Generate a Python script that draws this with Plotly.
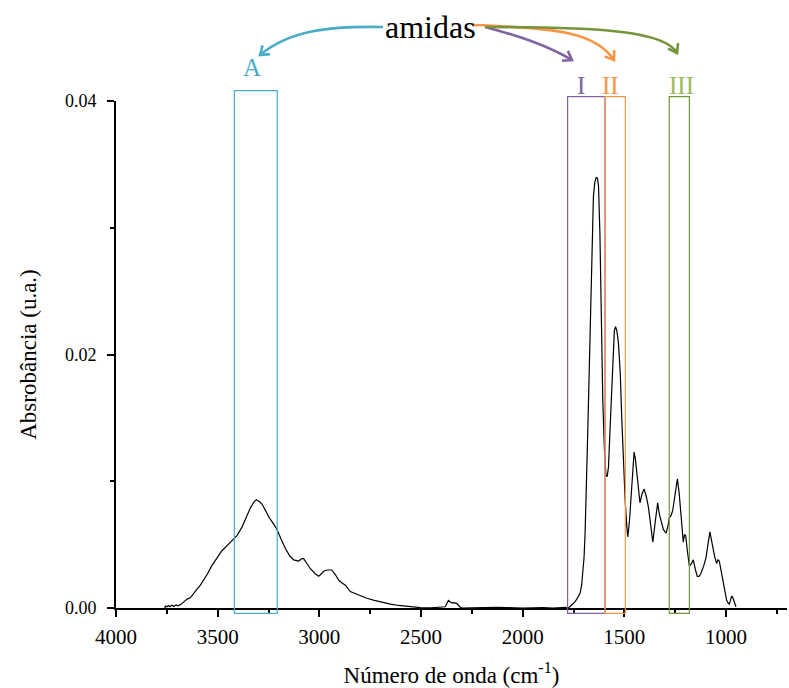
import math
import plotly.graph_objects as go

# ---------------- data ----------------
wavenumber = [3760, 3757, 3750, 3742, 3735, 3725, 3715, 3705, 3695, 3680, 3665, 3650, 3635, 3618,
              3600, 3585, 3569, 3550, 3530, 3503, 3480, 3455, 3429, 3405, 3380, 3360, 3339, 3320,
              3310, 3295, 3282, 3265, 3249, 3228, 3208, 3190, 3167, 3145, 3126, 3102, 3085, 3077,
              3060, 3044, 3020, 3003, 2990, 2979, 2960, 2938, 2920, 2905, 2890, 2872, 2848, 2820,
              2800, 2766, 2730, 2684, 2650, 2610, 2560, 2504, 2450, 2400, 2381, 2365, 2358, 2350,
              2340, 2323, 2310, 2299, 2250, 2200, 2150, 2120, 2080, 2000, 1900, 1850, 1790, 1775,
              1762, 1750, 1742, 1730, 1717, 1710, 1704, 1698, 1693, 1686, 1680, 1670, 1660, 1652,
              1645, 1638, 1632, 1627, 1620, 1616, 1611, 1606, 1598, 1590, 1584, 1578, 1570, 1562,
              1555, 1549, 1543, 1536, 1529, 1520, 1513, 1505, 1496, 1488, 1483, 1475, 1467, 1460,
              1452, 1446, 1439, 1430, 1423, 1413, 1403, 1392, 1382, 1370, 1360, 1348, 1336, 1328,
              1320, 1308, 1295, 1285, 1279, 1270, 1262, 1250, 1239, 1230, 1221, 1215, 1210, 1204,
              1198, 1190, 1180, 1170, 1161, 1150, 1141, 1132, 1124, 1110, 1098, 1088, 1079, 1072,
              1065, 1055, 1046, 1040, 1033, 1023, 1013, 1005, 997, 990, 984, 978, 972, 966, 961,
              955, 951]
absorbance = [0.0000, 0.00015, 0.0001, 0.0002, 0.0001, 0.00022, 0.00012, 0.00025, 0.00018, 0.0003,
              0.0005, 0.0007, 0.0008, 0.0011, 0.0015, 0.0018, 0.0022, 0.0027, 0.0033, 0.0040,
              0.0045, 0.0049, 0.0053, 0.0057, 0.0064, 0.0071, 0.0079, 0.0084, 0.00855, 0.0084,
              0.0082, 0.0077, 0.0072, 0.0067, 0.0062, 0.0055, 0.0047, 0.0041, 0.0038, 0.0037,
              0.0039, 0.0039, 0.0035, 0.0031, 0.0027, 0.0025, 0.0027, 0.0029, 0.0030, 0.0030,
              0.0026, 0.0022, 0.0020, 0.0018, 0.0013, 0.0011, 0.0010, 0.00077, 0.0006, 0.00042,
              0.0003, 0.0002, 0.0001, 0.00003, 0.00002, 0.00005, 0.0001, 0.0006, 0.0005, 0.0004,
              0.00042, 0.00035, 0.0001, 0.0, 0.00002, 0.00005, 0.0001, 0.00006, 0.00004, 0.0,
              0.00003, 0.0, 0.00005, 0.0, 0.0002, 0.0004, 0.0005, 0.0008, 0.0012, 0.0018,
              0.0027, 0.0040, 0.0059, 0.0095, 0.0138, 0.0205, 0.0275, 0.0325, 0.0336, 0.0340,
              0.0339, 0.0333, 0.0295, 0.0249, 0.0205, 0.0164, 0.0125, 0.0104, 0.0104, 0.0111,
              0.0142, 0.0177, 0.0203, 0.0219, 0.0222, 0.0218, 0.0209, 0.0185, 0.0151, 0.0118,
              0.0085, 0.0065, 0.0056, 0.0068, 0.0085, 0.0103, 0.0123, 0.0118, 0.0106, 0.0092,
              0.0083, 0.0090, 0.0094, 0.0088, 0.0080, 0.0065, 0.0052, 0.0068, 0.0083, 0.0074,
              0.0069, 0.0062, 0.0059, 0.0065, 0.0071, 0.0073, 0.0077, 0.0090, 0.0102, 0.0090,
              0.0075, 0.0060, 0.0052, 0.0058, 0.0057, 0.0045, 0.0033, 0.0035, 0.0038, 0.0030,
              0.0025, 0.0025, 0.0027, 0.0033, 0.0040, 0.0051, 0.0060, 0.0054, 0.0048, 0.0040,
              0.0035, 0.0038, 0.0037, 0.0028, 0.0019, 0.0012, 0.00063, 0.0004, 0.0003, 0.0006,
              0.00095, 0.0008, 0.0005, 0.0003, 0.0001]

x_tick_vals = [4000, 3500, 3000, 2500, 2000, 1500, 1000]
x_tick_text = ["4000", "3500", "3000", "2500", "2000", "1500", "1000"]
y_tick_vals = [0.00, 0.02, 0.04]
y_tick_text = ["0.00", "0.02", "0.04"]

# band regions (cm-1)
band_names = ["A", "I", "II", "III"]
band_lo = [3207, 1595, 1495, 1180]
band_hi = [3418, 1779, 1595, 1279]
band_label_colors = ["#4BACC6", "#8064A2", "#F79646", "#9BBB59"]
band_box_colors = ["#4BACC6", "#8064A2", "#F79646", "#77933C"]
arrow_colors = ["#4BACC6", "#8064A2", "#F79646", "#77933C"]

# ---------------- layout geometry ----------------
W, H = 789, 688
ML, MR, MT, MB = 116, 2, 101, 80
PW, PH = W - ML - MR, H - MT - MB
FONT = "Liberation Serif"


def px(xp, yp):
    """pixel position -> paper coordinates"""
    return (xp - ML) / PW, (H - MB - yp) / PH


fig = go.Figure()
fig.add_trace(go.Scatter(x=wavenumber, y=absorbance, mode="lines",
                         line=dict(color="black", width=1.2), showlegend=False,
                         hoverinfo="x+y"))

shapes = []
annotations = []

# boxes: x in data units, y in paper units
box_top = [1.0203, 1.0085, 1.0085, 1.0085]
box_bottom = -0.0105
for lo, hi, top, col in zip(band_lo, band_hi, box_top, band_box_colors):
    shapes.append(dict(type="rect", xref="x", yref="paper", x0=hi, x1=lo,
                       y0=box_bottom, y1=top, line=dict(color=col, width=1.2),
                       fillcolor="rgba(0,0,0,0)", layer="above"))

# band labels
label_pix = [(252, 68), (581, 85), (610, 85), (681, 85)]
for name, (lx, ly), col in zip(band_names, label_pix, band_label_colors):
    xp, yp = px(lx, ly)
    annotations.append(dict(text=name, x=xp, y=yp, xref="paper", yref="paper",
                            showarrow=False, xanchor="center", yanchor="middle",
                            font=dict(family=FONT, size=25, color=col)))

# "amidas" label
ax_, ay_ = px(430, 27)
annotations.append(dict(text="amidas", x=ax_, y=ay_, xref="paper", yref="paper",
                        showarrow=False, xanchor="center", yanchor="middle",
                        font=dict(family=FONT, size=32, color="black")))

# curved arrows (cubic Bezier in pixel space)
curves = [
    [(383, 27), (330, 26), (290, 30), (260, 55)],
    [(485, 27), (515, 35), (545, 44), (572, 60)],
    [(473, 25), (560, 28), (596, 33), (614, 60)],
    [(485, 27), (600, 27), (665, 31), (677, 53)],
]
for pts, col in zip(curves, arrow_colors):
    p = [px(*q) for q in pts]
    path = "M {:.5f},{:.5f} C {:.5f},{:.5f} {:.5f},{:.5f} {:.5f},{:.5f}".format(
        *p[0], *p[1], *p[2], *p[3])
    shapes.append(dict(type="path", xref="paper", yref="paper", path=path,
                       line=dict(color=col, width=2.6), layer="above"))
    # arrow head
    (x2, y2), (x3, y3) = pts[2], pts[3]
    ang = math.atan2(y3 - y2, x3 - x2)
    L = 10
    arms = []
    for da in (math.radians(35), -math.radians(35)):
        a = ang + math.pi + da
        arms.append((x3 + L * math.cos(a), y3 + L * math.sin(a)))
    h0 = px(*arms[0]); ht = px(x3, y3); h1 = px(*arms[1])
    hpath = "M {:.5f},{:.5f} L {:.5f},{:.5f} L {:.5f},{:.5f}".format(*h0, *ht, *h1)
    shapes.append(dict(type="path", xref="paper", yref="paper", path=hpath,
                       line=dict(color=col, width=2.6), layer="above"))

fig.update_layout(
    width=W, height=H,
    margin=dict(l=ML, r=MR, t=MT, b=MB, pad=0, autoexpand=False),
    paper_bgcolor="white", plot_bgcolor="white",
    font=dict(family=FONT, color="black", size=18),
    showlegend=False,
    shapes=shapes, annotations=annotations,
    xaxis=dict(range=[4000, 700], tickvals=x_tick_vals, ticktext=x_tick_text,
               ticks="outside", ticklen=7, tickwidth=2, tickcolor="black",
               showline=True, linecolor="black", linewidth=2, automargin=False,
               showgrid=False, zeroline=False, ticklabelstandoff=2,
               minor=dict(dtick=250, tick0=4000, ticks="outside", ticklen=4,
                          tickwidth=2, tickcolor="black", showgrid=False),
               tickfont=dict(family=FONT, size=21),
               title=dict(text="Número de onda (cm<sup>-1</sup>)",
                          font=dict(family=FONT, size=23), standoff=24)),
    yaxis=dict(range=[0, 0.04], tickvals=y_tick_vals, ticktext=y_tick_text,
               ticks="outside", ticklen=7, tickwidth=2, tickcolor="black",
               showline=True, linecolor="black", linewidth=2, automargin=False,
               showgrid=False, zeroline=False, ticklabelstandoff=7,
               minor=dict(dtick=0.01, tick0=0, ticks="outside", ticklen=4,
                          tickwidth=2, tickcolor="black", showgrid=False),
               tickfont=dict(family=FONT, size=18),
               title=dict(text="Absrobância (u.a.)",
                          font=dict(family=FONT, size=23), standoff=22)),
)

fig.write_html("out.html")
